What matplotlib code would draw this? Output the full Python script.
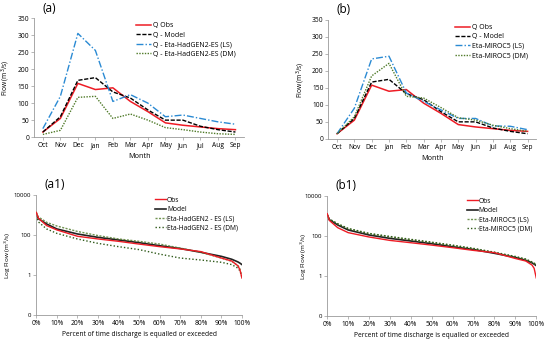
import matplotlib
matplotlib.use("Agg")
import matplotlib.pyplot as plt
import numpy as np

months = ["Oct", "Nov", "Dec", "Jan", "Feb", "Mar", "Apr", "May", "Jun", "Jul", "Aug", "Sep"]
q_obs = [15, 55, 158, 140, 145, 105, 75, 42, 35, 30, 25, 22]
q_model = [15, 60, 167, 175, 133, 115, 80, 50, 50, 32, 22, 15]
a_ls = [25, 120, 305, 255, 105, 125, 100, 60, 65, 55, 45, 38]
a_dm = [8, 20, 117, 120, 55, 68, 50, 28, 22, 15, 10, 8]
b_ls = [15, 90, 235, 243, 135, 110, 85, 60, 60, 38, 37, 27]
b_dm = [15, 65, 185, 222, 125, 120, 92, 62, 55, 40, 30, 22]

pct = [0, 1, 5, 10, 20, 30, 40, 50, 60, 70, 80, 90, 95, 98, 99, 100]
fdc_obs_a = [1350, 700, 295, 178, 86, 63, 48, 35, 26, 20, 14.7, 7, 5, 2.9, 1.8, 0.7]
fdc_model = [1100, 650, 355, 200, 112, 76, 56, 41, 29, 21, 13.6, 8.5, 6.1, 4.5, 3.9, 3.3]
fdc_ls_a = [1350, 800, 430, 280, 150, 93, 63, 48, 35, 22, 13.6, 7, 4.8, 2.9, 2.0, 0.7]
fdc_dm_a = [930, 450, 200, 120, 63, 38, 26, 18.5, 11, 7, 5.6, 4.3, 3.3, 2.2, 1.6, 0.75]
fdc_obs_b = [1300, 600, 260, 147, 89, 60, 46, 35, 26, 19, 14.7, 7.5, 5.6, 3.5, 2.4, 0.8]
fdc_ls_b = [1200, 700, 400, 230, 130, 90, 65, 47, 33, 23, 15, 9, 6.8, 4.8, 4.2, 3.5]
fdc_dm_b = [1150, 700, 410, 240, 135, 95, 68, 49, 35, 24, 15.5, 9.5, 7, 5, 4.4, 3.8]

log_ticks = [0.01, 1, 100, 10000]
log_labels = ["0", "1", "100", "10000"]

plt.rcParams['font.family'] = ['Open Sans', 'DejaVu Sans']
fig = plt.figure(figsize=(5.5, 3.42), dpi=100)

red = "#ee1c25"
blue = "#2a8ad3"
green = "#4f7a28"
gray = "#9a9a9a"


def style(ax):
    for s in ["top", "right"]:
        ax.spines[s].set_visible(False)
    for s in ["left", "bottom"]:
        ax.spines[s].set_color(gray)
        ax.spines[s].set_linewidth(0.6)
    ax.tick_params(labelsize=4.8, length=2, width=0.5, color=gray, pad=1.5)


def monthly(rect, ls, dm, lsname, dmname, label, ylx):
    ax = fig.add_axes(rect)
    x = np.arange(len(months))
    ax.plot(x, q_obs, color=red, lw=1.1, label="Q Obs")
    ax.plot(x, q_model, color="black", lw=1.0, ls=(0, (3, 1.2)), label="Q - Model")
    ax.plot(x, ls, color=blue, lw=1.0, ls=(0, (5, 1.5, 1, 1.5)), label=lsname)
    ax.plot(x, dm, color=green, lw=1.0, ls=(0, (1, 1)), label=dmname)
    ax.set_xlim(-0.5, 11.5)
    ax.set_ylim(0, 350)
    ax.set_yticks(range(0, 351, 50))
    ax.set_xticks(x)
    ax.set_xticklabels(months)
    ax.set_xlabel("Month", fontsize=5.2, labelpad=3)
    ax.set_ylabel("Flow (m$^3$/s)", fontsize=4.8)
    ax.yaxis.set_label_coords(ylx, 0.5)
    style(ax)
    ax.legend(loc="upper right", bbox_to_anchor=(0.98, 1.0), frameon=False, fontsize=5,
              handlelength=2.2, labelspacing=0.35, handletextpad=0.3, borderaxespad=0.2)
    ax.text(0.04, 1.03, label, transform=ax.transAxes, fontsize=8.5, ha="left", va="bottom")
    return ax


def fdc(rect, obs, ls, dm, lsname, dmname, label, ylx):
    ax = fig.add_axes(rect)
    ax.plot(pct, obs, color=red, lw=1.0, label="Obs", zorder=3)
    ax.plot(pct, fdc_model, color="#222222", lw=1.2, label="Model", zorder=2)
    ax.plot(pct, ls, color=green, lw=1.0, ls=(0, (1.5, 1)), alpha=0.8, label=lsname)
    ax.plot(pct, dm, color="#2f5a1a", lw=1.0, ls=(0, (1, 1.5)), label=dmname)
    ax.set_yscale("log")
    ax.set_ylim(0.01, 10000)
    ax.set_yticks(log_ticks)
    ax.set_yticklabels(log_labels)
    ax.yaxis.set_minor_locator(matplotlib.ticker.NullLocator())
    ax.set_xlim(0, 100)
    ax.set_xticks(range(0, 101, 10))
    ax.set_xticklabels([f"{v}%" for v in range(0, 101, 10)])
    ax.set_xlabel("Percent of time discharge is equalled or exceeded", fontsize=4.8, labelpad=3)
    ax.set_ylabel("Log Flow (m$^3$/s)", fontsize=4.6)
    ax.yaxis.set_label_coords(ylx, 0.5)
    style(ax)
    ax.tick_params(axis="y", labelsize=4.4)
    ax.legend(loc="upper right", bbox_to_anchor=(1.0, 1.02), frameon=False, fontsize=4.8,
              handlelength=1.6, labelspacing=0.35, handletextpad=0.2, borderaxespad=0.2)
    ax.text(0.04, 1.03, label, transform=ax.transAxes, fontsize=8.5, ha="left", va="bottom")
    return ax


monthly([0.062, 0.599, 0.382, 0.348], a_ls, a_dm,
        "Q - Eta-HadGEN2-ES (LS)", "Q - Eta-HadGEN2-ES (DM)", "(a)", -0.105)
monthly([0.597, 0.594, 0.378, 0.348], b_ls, b_dm,
        "Eta-MIROC5 (LS)", "Eta-MIROC5 (DM)", "(b)", -0.105)
fdc([0.066, 0.079, 0.374, 0.351], fdc_obs_a, fdc_ls_a, fdc_dm_a,
    "Eta-HadGEN2 - ES (LS)", "Eta-HadGEN2 - ES (DM)", "(a1)", -0.115)
fdc([0.595, 0.076, 0.380, 0.351], fdc_obs_b, fdc_ls_b, fdc_dm_b,
    "Eta-MIROC5 (LS)", "Eta-MIROC5 (DM)", "(b1)", -0.085)

fig.savefig("out.png", dpi=100)
